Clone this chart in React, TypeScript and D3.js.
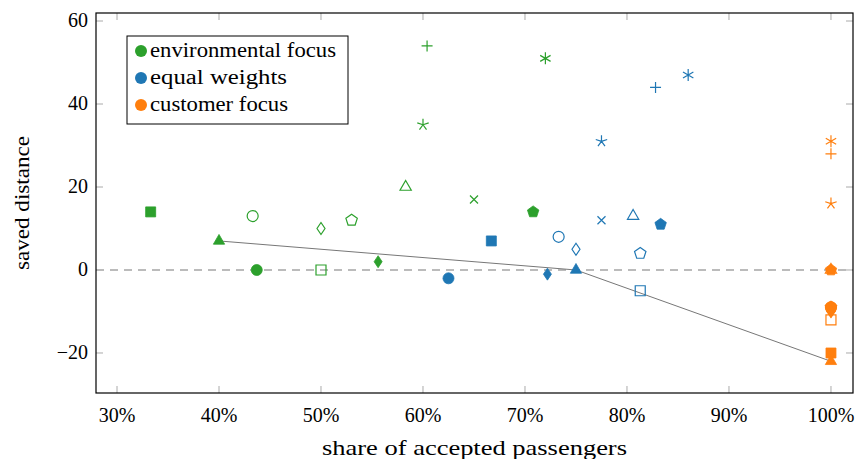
import * as d3 from 'd3';
import { useEffect, useRef } from 'react';

// mark shapes, same order in every series
const marks = ['square*', 'triangle*', 'o', '*', 'square', 'diamond', 'pentagon', 'diamond*', 'triangle', 'star', '+', 'x', 'pentagon*', 'asterisk'];

const envX = [33.3, 40, 43.3, 43.7, 50, 50, 53, 55.6, 58.3, 60, 60.4, 65, 70.8, 72];
const envY = [14, 7, 13, 0, 0, 10, 12, 2, 20, 35, 54, 17, 14, 51];
const eqX = [66.7, 75, 73.3, 62.5, 81.3, 75, 81.3, 72.2, 80.6, 77.5, 82.8, 77.5, 83.3, 86];
const eqY = [7, 0, 8, -2, -5, 5, 4, -1, 13, 31, 44, 12, 11, 47];
const custX = [100, 100, 100, 100, 100, 100, 100, 100, 100, 100, 100, 100, 100, 100];
const custY = [-20, -22, -9, -9, -12, -10, -9, -10, 0, 16, 28, -9, 0, 31];

const frontX = [40, 75, 100];
const frontY = [7, 0, -22];

const seriesNames = ['environmental focus', 'equal weights', 'customer focus'];
const seriesColors = ['#2ca02c', '#1f77b4', '#ff7f0e'];
const nameWidths = [186, 137, 138]; // CM-like text widths

const xTicks = [30, 40, 50, 60, 70, 80, 90, 100];
const yTicks = [-20, 0, 20, 40, 60];

const FONT = '"Liberation Serif", "DejaVu Serif", serif';

function markPath(m: string): string {
  const base = m.replace('*', '');
  if (base === 'o' || base === '') {
    const r = 5.5;
    return `M${r},0A${r},${r} 0 1 1 ${-r},0A${r},${r} 0 1 1 ${r},0Z`;
  }
  if (base === 'square') return 'M-5,-5h10v10h-10Z';
  if (base === 'triangle') {
    const r = 6.5;
    return d3.line()([0, 1, 2].map(k => {
      const a = (-90 + 120 * k) * Math.PI / 180;
      return [r * Math.cos(a), r * Math.sin(a)];
    })) + 'Z';
  }
  if (base === 'diamond') return 'M0,-6L4,0L0,6L-4,0Z';
  if (base === 'pentagon') {
    const r = 6;
    return d3.line()([0, 1, 2, 3, 4].map(k => {
      const a = (-90 + 72 * k) * Math.PI / 180;
      return [r * Math.cos(a), r * Math.sin(a)];
    })) + 'Z';
  }
  if (base === 'star') {
    const r = 6;
    return [0, 1, 2, 3, 4].map(k => {
      const a = (-90 + 72 * k) * Math.PI / 180;
      return `M0,0L${r * Math.cos(a)},${r * Math.sin(a)}`;
    }).join('');
  }
  if (base === 'asterisk') {
    const r = 6;
    return [-90, -30, 30].map(d => {
      const a = d * Math.PI / 180;
      return `M${-r * Math.cos(a)},${-r * Math.sin(a)}L${r * Math.cos(a)},${r * Math.sin(a)}`;
    }).join('');
  }
  if (base === '+') return 'M-5.5,0H5.5M0,-5.5V5.5';
  if (base === 'x') return 'M-4,-4L4,4M-4,4L4,-4';
  return '';
}

const App = () => {
  const ref = useRef<SVGSVGElement>(null);

  useEffect(() => {
    const width = 858;
    const height = 459;
    const left = 96, right = 853, top = 13, bottom = 393;

    const svg = d3.select(ref.current);
    svg.selectAll('*').remove();
    svg.attr('width', width).attr('height', height);

    const x = d3.scaleLinear().domain([27.94, 102.16]).range([left, right]);
    const y = d3.scaleLinear().domain([-29.64, 61.93]).range([bottom, top]);

    // ticks (mirrored on both sides, pointing in)
    const tl = 7;
    xTicks.forEach(t => {
      svg.append('line').attr('x1', x(t)).attr('x2', x(t)).attr('y1', bottom).attr('y2', bottom - tl)
        .attr('stroke', '#aaa').attr('stroke-width', 1);
      svg.append('line').attr('x1', x(t)).attr('x2', x(t)).attr('y1', top).attr('y2', top + tl)
        .attr('stroke', '#aaa').attr('stroke-width', 1);
      svg.append('text').attr('x', x(t)).attr('y', bottom + 29).attr('text-anchor', 'middle')
        .attr('font-family', FONT).attr('font-size', 20).text(`${t}%`);
    });
    yTicks.forEach(t => {
      svg.append('line').attr('x1', left).attr('x2', left + tl).attr('y1', y(t)).attr('y2', y(t))
        .attr('stroke', '#aaa').attr('stroke-width', 1);
      svg.append('line').attr('x1', right).attr('x2', right - tl).attr('y1', y(t)).attr('y2', y(t))
        .attr('stroke', '#aaa').attr('stroke-width', 1);
      svg.append('text').attr('x', left - 8).attr('y', y(t) + 6).attr('text-anchor', 'end')
        .attr('font-family', FONT).attr('font-size', 20).text(d3.format('d')(t));
    });

    // zero line
    svg.append('line').attr('x1', left).attr('x2', right).attr('y1', y(0)).attr('y2', y(0))
      .attr('stroke', '#bbb').attr('stroke-width', 2).attr('stroke-dasharray', '8,6');

    // connecting line
    const line = d3.line<number>().x((d, i) => x(frontX[i])).y(d => y(d));
    svg.append('path').attr('d', line(frontY)).attr('fill', 'none')
      .attr('stroke', '#777').attr('stroke-width', 1);

    const series = [[envX, envY], [eqX, eqY], [custX, custY]];
    series.forEach(([xs, ys], si) => {
      const c = seriesColors[si];
      marks.forEach((m, i) => {
        const filled = m.endsWith('*');
        svg.append('path')
          .attr('d', markPath(m))
          .attr('transform', `translate(${x(xs[i])},${y(ys[i])})`)
          .attr('fill', filled ? c : 'none')
          .attr('stroke', c)
          .attr('stroke-width', filled ? 0.8 : 1.2);
      });
    });

    // frame
    svg.append('rect').attr('x', left).attr('y', top).attr('width', right - left).attr('height', bottom - top)
      .attr('fill', 'none').attr('stroke', '#000').attr('stroke-width', 1.2);

    // legend
    const lg = svg.append('g');
    lg.append('rect').attr('x', 127).attr('y', 36).attr('width', 221).attr('height', 88)
      .attr('fill', '#fff').attr('stroke', '#000').attr('stroke-width', 1);
    seriesNames.forEach((n, i) => {
      const cy = 51 + i * 27;
      lg.append('circle').attr('cx', 141).attr('cy', cy).attr('r', 6).attr('fill', seriesColors[i]);
      lg.append('text').attr('x', 150).attr('y', cy + 6).attr('font-family', FONT).attr('font-size', 20)
        .attr('textLength', nameWidths[i]).attr('lengthAdjust', 'spacingAndGlyphs')
        .text(n);
    });

    // axis labels
    svg.append('text').attr('x', (left + right) / 2).attr('y', 455).attr('text-anchor', 'middle')
      .attr('font-family', FONT).attr('font-size', 21)
      .attr('textLength', 305).attr('lengthAdjust', 'spacingAndGlyphs')
      .text('share of accepted passengers');
    svg.append('text').attr('transform', `translate(29,${(top + bottom) / 2}) rotate(-90)`)
      .attr('text-anchor', 'middle').attr('font-family', FONT).attr('font-size', 21)
      .attr('textLength', 134).attr('lengthAdjust', 'spacingAndGlyphs')
      .text('saved distance');
  }, []);

  return (
    <div style={{ position: 'absolute', left: 0, top: 0 }}>
      <svg ref={ref} style={{ display: 'block' }}></svg>
    </div>
  );
};

export default App;
